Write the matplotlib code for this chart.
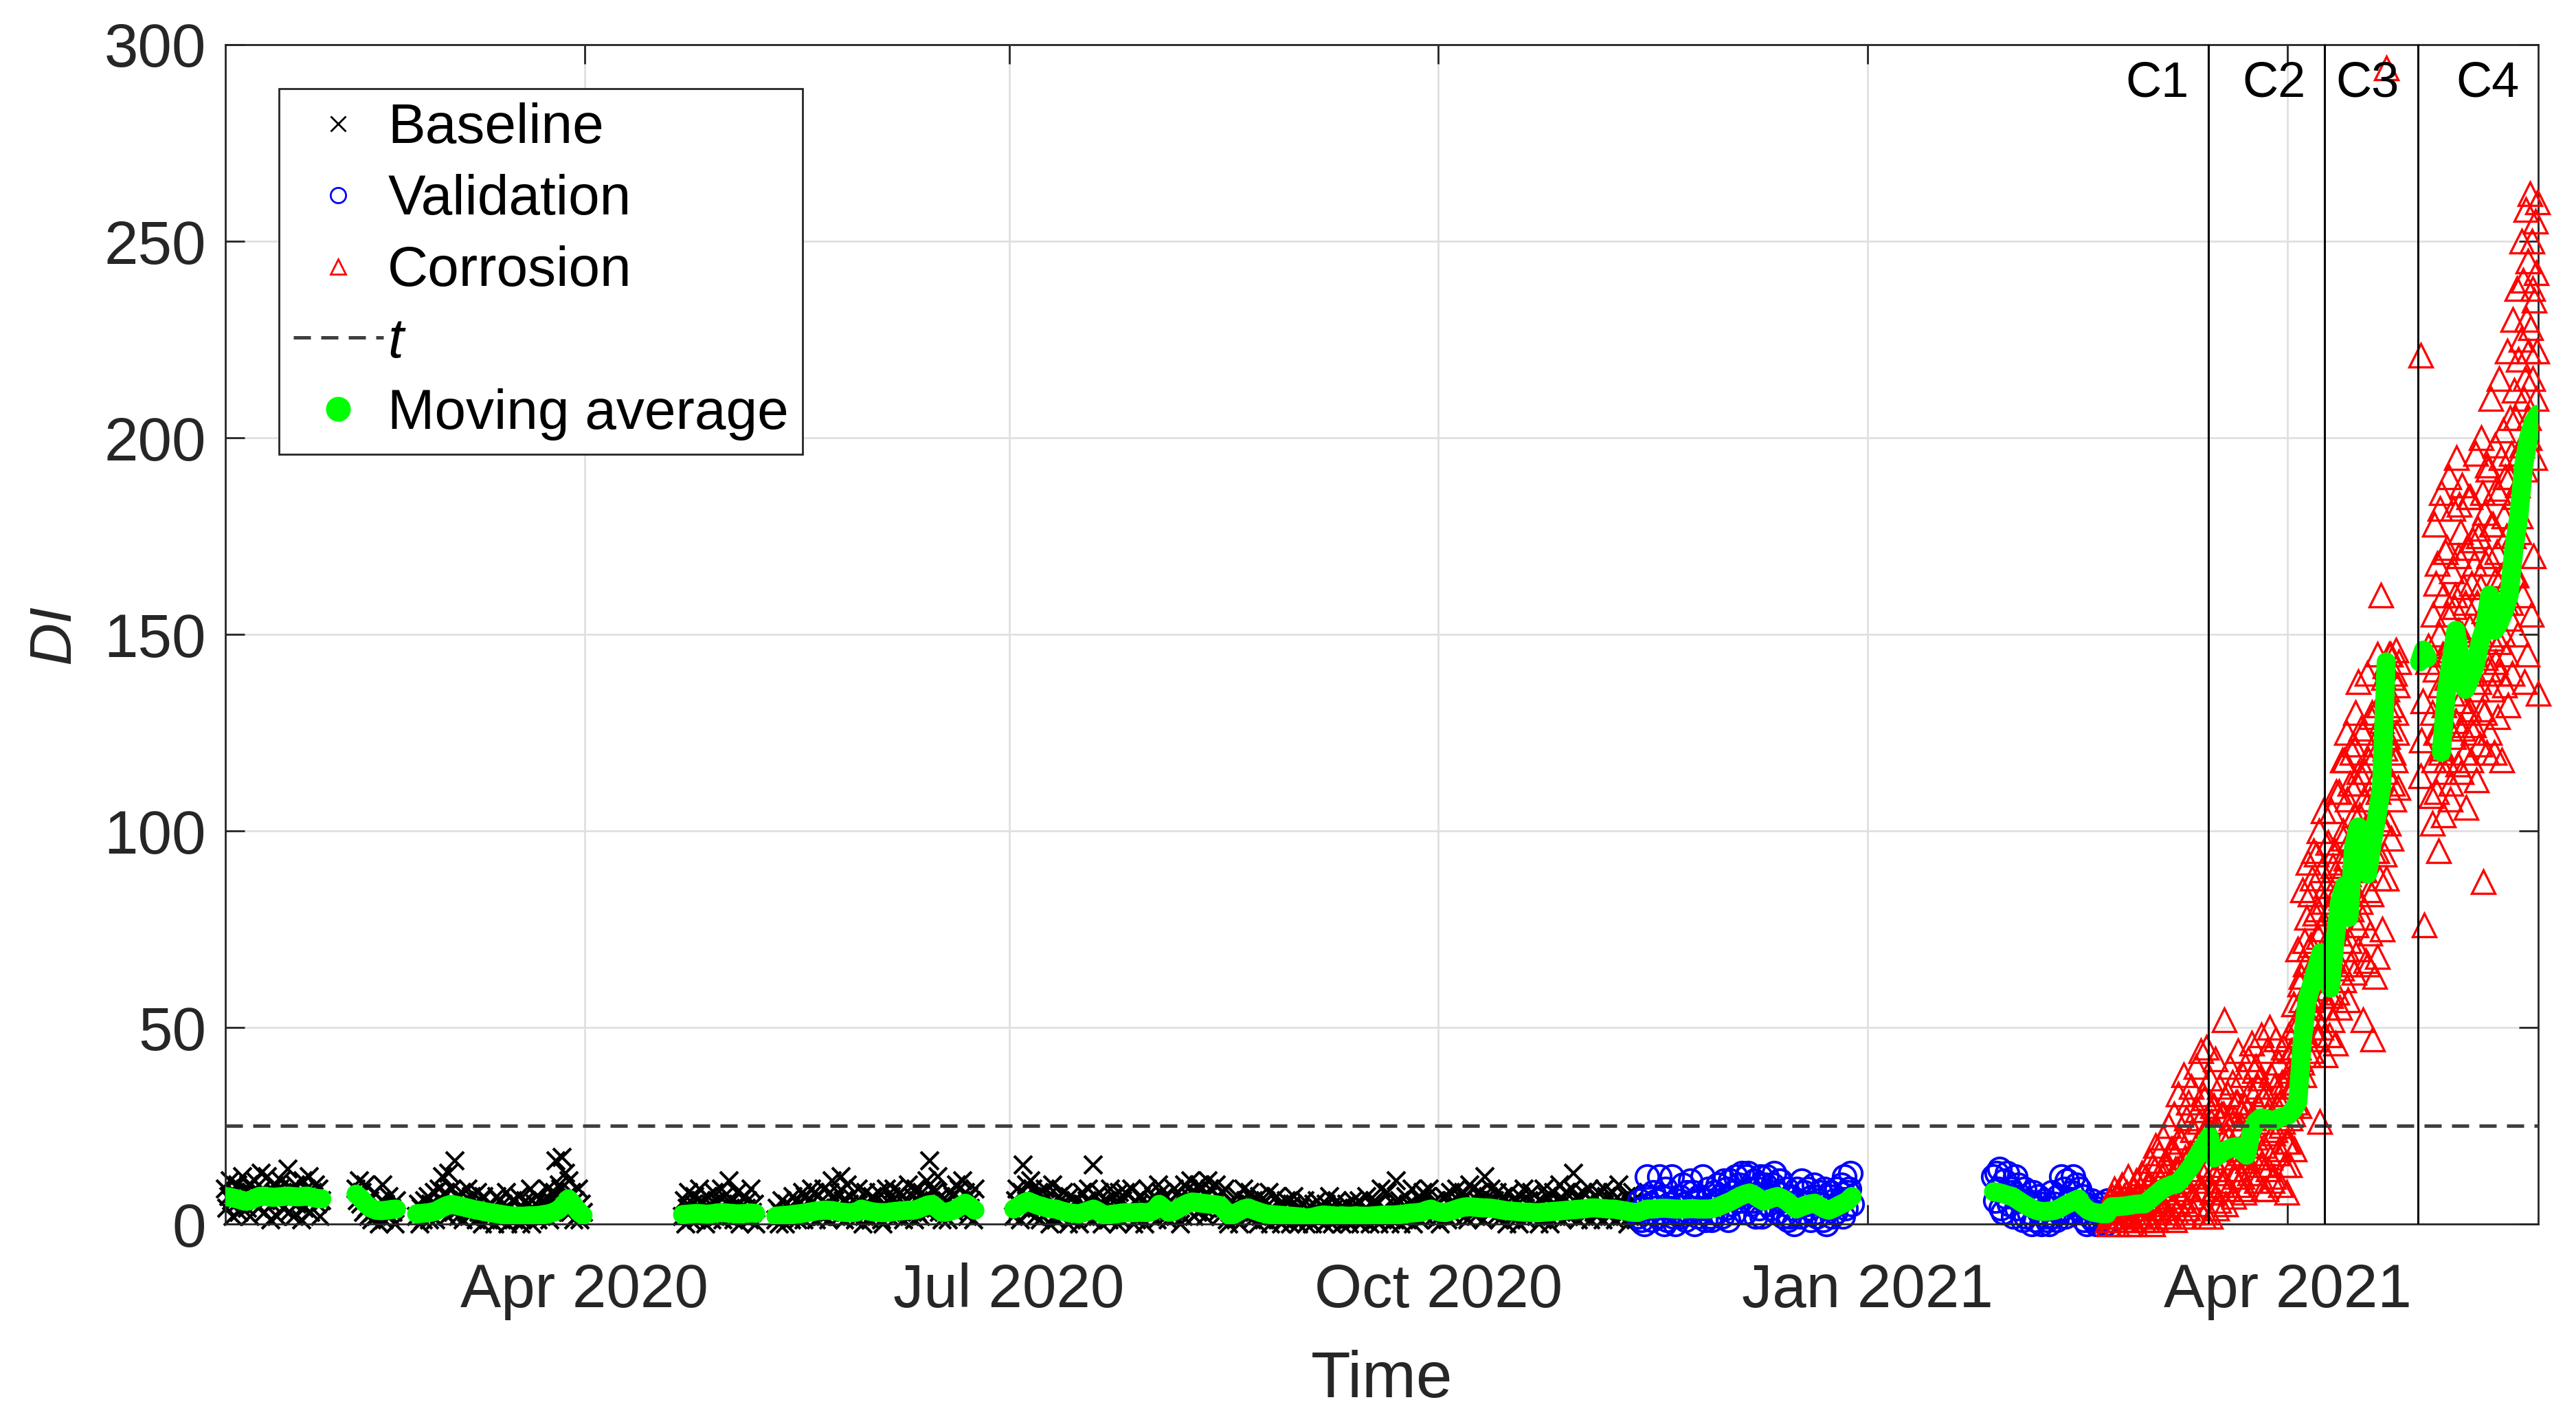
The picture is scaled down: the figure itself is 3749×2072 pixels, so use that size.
import numpy as np
import pandas as pd
import matplotlib
matplotlib.use("Agg")
import matplotlib.pyplot as plt
import matplotlib.dates as mdates
from matplotlib.lines import Line2D

plt.rcParams['font.family'] = ['Liberation Sans', 'DejaVu Sans']

# ---------------- data ----------------
# Baseline segments: (start, end) and DI values (3 samples per day)
base_spans = [("2020-01-15", "2020-02-04 16:00"), ("2020-02-12", "2020-02-20 16:00"),
              ("2020-02-25", "2020-03-31 16:00"), ("2020-04-22", "2020-05-07 16:00"),
              ("2020-05-12", "2020-06-23 16:00"), ("2020-07-02", "2020-11-12 16:00")]
base_s1 = [9,4,7, 11,6,2, 8,5,10, 3,7,12, 6,9,4, 10,2,8, 7,11,5, 4,8,13, 9,3,6, 12,7,1,
           5,10,8, 2,6,9, 11,4,7, 8,14,3, 6,9,2, 10,5,8, 7,1,11, 4,9,6, 12,3,8, 7,10,5, 9,2,6]
base_s2 = [9,6,11, 5,8,3, 10,4,2, 6,1,3, 8,2,5, 0,4,10, 1,5,3, 7,2,4, 3,0,6]
base_s3 = [2,5,0, 4,1,6, 3,7,1, 5,2,8, 1,4,9, 6,12,3, 8,2,13, 5,9,3, 16,7,2, 4,8,1, 6,3,9,
           2,7,4, 5,1,8, 3,6,0, 7,2,4, 1,5,3, 4,0,7, 2,6,1, 5,3,8, 0,4,2, 6,1,3, 3,7,0, 1,4,6,
           5,2,9, 0,3,5, 7,1,4, 2,6,3, 4,9,1, 6,3,8, 16,5,10, 9,17,4, 13,7,11, 3,8,1, 6,2,9, 1,5,3]
base_s4 = [2,6,0, 4,8,1, 3,5,7, 1,4,9, 6,2,3, 0,7,4, 5,1,8, 3,6,2, 4,9,1, 7,3,5, 11,2,6,
           1,4,8, 5,0,3, 2,7,4, 6,1,9, 3,5,0]
base_s5 = [1,4,0, 3,6,2, 0,5,3, 4,1,7, 2,6,1, 5,3,8, 1,7,4, 6,2,9, 3,8,1, 7,4,2, 2,9,5, 5,1,8,
           11,3,6, 4,8,2, 12,6,1, 3,10,5, 7,2,4, 1,5,9, 6,3,0, 2,8,4, 5,1,7, 3,6,2, 8,4,1, 0,5,9,
           4,2,7, 6,9,3, 2,4,8, 7,1,5, 3,10,2, 5,7,1, 9,3,6, 2,8,4, 6,11,3, 16,5,9, 8,4,12, 3,7,1,
           5,2,6, 1,8,4, 7,3,10, 4,9,6, 11,5,8, 2,7,4, 6,1,9]
base_s6 = [2,6,9, 5,1,8, 15,4,10, 7,3,11, 9,5,2, 4,8,1, 6,2,9, 3,7,0, 5,10,2, 1,4,7, 6,2,8,
           3,5,0, 7,1,4, 2,6,3, 0,4,8, 5,2,6, 9,3,1, 15,4,7, 2,8,5, 0,3,6, 4,1,9, 2,7,3, 5,0,8,
           1,6,3, 8,2,4, 3,9,0, 6,1,5, 2,7,4, 0,5,9, 4,2,6,
           7,3,1, 10,5,8, 3,7,2, 1,4,6, 5,9,2, 3,8,0, 6,2,10, 4,9,7, 11,5,2, 8,3,10, 6,9,4,
           2,7,11, 9,4,6, 5,10,3, 7,2,8, 4,9,1, 0,3,6, 2,5,1, 7,0,4, 3,9,6, 5,2,8, 1,6,3, 4,0,7,
           2,5,1, 6,3,8, 0,4,2, 3,7,1, 5,0,4, 1,6,2, 3,0,5, 7,1,3,
           0,4,2, 2,6,0, 4,1,3, 0,5,2, 6,1,3, 2,4,0, 5,1,7, 3,0,4, 1,6,2, 4,0,3, 2,5,1, 0,3,6,
           4,1,2, 6,0,3, 1,4,7, 3,0,5, 2,6,1, 5,0,9, 1,4,2, 8,3,0, 2,5,1, 11,3,6, 0,4,2, 7,1,5,
           3,9,0, 5,2,4, 1,6,8, 4,2,7, 9,3,5, 2,6,1,
           5,0,4, 3,7,2, 1,5,8, 6,2,4, 9,3,7, 4,8,2, 7,1,10, 5,9,3, 2,6,8, 8,4,1, 12,5,7, 3,9,6,
           6,2,8, 1,5,4, 7,3,0, 4,8,2, 2,6,1, 5,0,7, 3,9,4, 1,6,2, 8,3,5, 2,4,0, 6,1,9, 3,7,2,
           0,5,8, 4,2,6, 10,3,1, 6,8,4, 2,5,9, 13,4,7, 1,6,3,
           8,2,5, 4,9,1, 6,3,7, 2,8,5, 5,1,9, 7,4,2, 3,8,6, 1,5,10, 6,2,4, 4,7,0, 2,5,8, 6,1,3]
base_ma = [
    [7.0,6.8,6.5,6.2,5.8,5.9,6.5,7.0,7.1,6.9,6.8,6.9,7.0,7.1,7.0,6.9,7.0,7.1,6.8,6.5,6.4],
    [7.6,6.5,5.0,4.0,3.5,3.4,3.5,3.7,3.8],
    [2.6,2.7,2.8,3.0,3.3,4.0,4.6,5.0,4.8,4.5,4.2,3.9,3.6,3.4,3.1,2.9,2.7,2.5,2.3,2.1,2.0,2.0,
     2.0,2.1,2.1,2.2,2.4,2.6,3.0,3.6,4.8,6.4,5.0,3.2,2.2],
    [2.4,2.5,2.6,2.7,2.6,2.5,2.6,2.8,2.9,2.8,2.7,2.6,2.6,2.7,2.8,2.7],
    [2.0,2.1,2.2,2.3,2.5,2.6,2.8,3.0,3.2,3.4,3.5,3.5,3.4,3.2,3.0,2.9,2.9,3.0,3.8,3.5,
     3.2,3.0,2.9,2.9,3.0,3.2,3.3,3.4,3.5,3.5,3.8,4.3,4.8,5.0,4.0,3.0,3.0,3.3,3.8,4.6,5.3,4.5,3.5],
    [3.8,4.5,5.3,5.8,5.3,4.8,4.5,4.1,3.9,3.8,3.4,3.1,2.8,2.7,2.6,3.0,3.4,3.8,3.2,2.4,2.3,2.5,
     2.6,2.8,2.9,2.9,2.9,3.0,2.9,3.0,
     3.5,5.0,4.0,3.0,3.2,3.8,4.6,5.2,5.6,5.5,5.3,5.2,5.0,4.9,4.7,3.5,2.2,2.5,3.2,3.8,4.1,3.6,
     3.2,2.8,2.5,2.4,2.3,2.2,2.1,2.0,1.9,
     1.8,1.6,1.5,1.8,2.1,2.3,2.2,2.1,2.0,2.1,2.0,2.0,2.1,2.0,2.0,2.0,2.1,2.2,2.3,2.3,2.3,2.4,
     2.5,2.7,2.8,2.9,3.0,3.5,3.8,3.3,
     3.0,2.9,3.2,3.6,4.0,4.3,4.4,4.3,4.2,4.1,4.1,4.0,3.8,3.6,3.4,3.3,3.2,3.1,3.0,3.0,2.9,2.9,
     3.0,3.1,3.2,3.3,3.4,3.5,3.6,3.7,3.8,
     3.9,4.1,4.1,4.0,3.9,3.8,3.8,3.6,3.4,3.2,3.0,2.9],
]

# Validation segments (3 samples per day)
val_spans = [("2020-11-12 20:00", "2020-12-28 16:00"), ("2021-01-28", "2021-02-21 08:00")]
val_s1 = [2,6,1, 4,0,7, 12,3,5, 1,8,4, 6,2,12, 3,7,0, 9,1,5, 4,12,2, 0,6,3, 7,2,10, 5,1,8,
          3,11,4, 8,0,6, 2,7,3, 12,4,1, 6,9,2, 1,5,8, 3,10,6, 7,2,11,
          4,9,1, 11,5,8, 3,12,7, 10,6,13, 8,3,12, 13,9,5, 6,11,2, 9,4,12, 2,7,10, 12,5,8,
          4,10,13, 8,3,11, 11,6,2, 5,9,1, 2,7,4, 0,5,9, 6,2,11, 3,8,5, 9,4,1, 7,10,3, 2,6,8,
          5,1,9, 0,4,7, 8,2,6, 3,9,5, 6,10,2, 12,4,8, 9,13,5]
val_s2 = [12,6,13, 9,14,4, 3,11,7, 13,5,9, 8,2,12, 4,10,6, 7,1,9, 2,6,3, 5,0,8, 1,4,7, 3,0,5,
          6,2,1, 0,4,8, 2,5,1, 7,3,12, 4,9,2, 11,6,3, 8,12,5, 10,4,9, 3,7,1, 5,0,4, 2,6,1,
          4,0,3, 1,5,2, 3,0,6]
val_ma = [
    [3.0,3.4,3.8,3.8,3.9,4.0,4.0,3.9,3.8,3.8,3.8,3.9,3.9,3.8,3.8,3.8,3.9,4.3,4.8,
     5.3,5.8,6.5,7.1,7.6,7.9,7.3,6.5,5.8,6.2,6.7,7.0,6.5,5.8,4.8,3.8,4.3,4.8,5.1,5.3,4.6,
     3.9,3.5,4.0,4.6,5.2,5.8,7.0],
    [8.2,8.0,7.7,7.3,7.0,6.2,5.4,4.7,4.0,3.5,3.2,3.2,3.3,3.5,4.0,4.7,5.3,5.9,6.4,4.5,3.5,
     3.0,2.8,2.6,2.6],
]

# Corrosion: Feb 21 - Mar 31 (6 per day), Apr 1 - Apr 24 (8 per day),
# a few sparse points, May 2 - May 24 (8 per day)
corr_span1 = ("2021-02-21 08:00", "2021-03-31 20:00")
corr_s1 = [1,4,0,6,2,3, 3,7,1,9,5,2, 5,0,8,2,6,4, 6,10,3,1,7,4, 2,8,4,12,0,6, 7,1,5,9,3,6,
           0,6,11,3,8,2, 4,9,2,13,6,1,
           8,3,12,6,1,10, 2,10,16,5,8,0, 9,4,14,20,1,6, 6,18,3,11,9,14, 12,22,4,8,16,2,
           15,7,25,2,11,19, 10,19,5,28,1,14, 3,14,33,8,22,11, 21,6,12,38,2,17, 9,27,16,4,31,13,
           18,35,7,24,3,12, 12,40,5,29,21,9, 26,14,44,9,33,2, 32,3,19,45,25,11, 15,37,2,26,8,30,
           8,30,42,20,4,14, 24,6,35,13,28,10, 11,28,52,17,5,23, 33,9,22,40,14,27, 19,36,7,27,12,31,
           14,31,44,10,24,18, 25,12,38,21,8,30, 9,29,16,42,22,13, 34,18,46,13,27,39,
           22,40,11,30,35,17, 37,15,48,26,9,32, 20,33,9,44,28,14, 29,50,17,38,11,23,
           12,35,24,47,30,18, 41,19,31,10,25,36, 26,45,15,36,21,8]
corr_span2 = ("2021-04-01", "2021-04-24 20:00")
corr_s2 = [33,21,48,39,15,27,44,30, 44,28,56,35,19,40,31,50, 52,38,70,45,30,61,42,57,
           63,41,85,55,38,72,49,66, 48,78,60,92,43,70,55,84, 71,44,88,57,66,95,50,79,
           53,94,66,80,47,73,100,60, 26,75,50,90,64,105,58,82, 62,43,86,72,55,97,68,79,
           48,80,58,105,67,52,91,74, 67,95,46,84,110,59,76,88, 74,110,55,92,83,65,118,98,
           100,62,118,81,93,125,70,108, 57,89,72,112,66,98,80,120, 85,122,64,104,94,130,76,112,
           93,138,70,115,104,82,126,99, 78,125,52,108,90,115,67,101, 99,140,66,118,85,108,74,129,
           84,130,47,112,95,122,63,105, 120,95,145,68,110,132,88,103, 160,102,128,75,117,139,94,121,
           142,115,88,136,124,102,131,145, 126,145,98,132,112,139,120,108, 140,118,146,130,125,137,111,143]
corr_sparse_t = ["2021-04-22 06:00", "2021-04-29 12:00", "2021-04-29 14:00", "2021-04-29 18:00",
                 "2021-04-30 00:00", "2021-04-30 06:00", "2021-04-30 12:00", "2021-05-01 00:00",
                 "2021-05-01 06:00", "2021-05-01 18:00"]
corr_sparse_v = [294, 221, 114, 123, 133, 76, 145, 143, 147, 109]
corr_span3 = ("2021-05-02", "2021-05-24 18:00")
corr_s3 = [102,130,155,118,178,141,125,163, 110,168,125,95,150,137,182,120,
           186,121,145,104,160,132,115,171, 118,172,139,155,127,190,146,108,
           148,112,166,135,182,124,157,140, 160,128,195,142,117,170,151,183,
           133,176,115,150,188,126,162,143, 120,158,141,106,172,147,130,185,
           152,131,185,118,163,140,174,125, 127,168,145,196,113,158,136,177,
           175,138,122,162,150,200,131,186, 87,156,130,181,144,168,120,193,
           192,141,170,125,158,210,149,178, 136,178,155,120,198,164,143,187,
           171,129,186,148,215,140,160,195, 118,165,202,150,180,137,190,158,
           175,145,222,132,168,190,154,205, 158,196,140,230,175,212,185,165,
           205,165,238,188,150,220,176,196, 180,225,250,198,160,240,210,138,
           215,192,258,230,145,245,205,222, 200,262,228,155,250,215,238,170,
           235,195,255,210,242,222,260,135]
corr_ma_spans = [("2021-02-21 08:00", "2021-04-22 04:00"), ("2021-04-29 08:00", "2021-05-01 00:00"),
                 ("2021-05-04", "2021-05-24 18:00")]
corr_ma = [
    [3.0,4.4,4.4,4.5,4.6,4.8,5.0,5.1,
     5.1,6.0,7.0,8.0,9.0,9.5,10.0,10.2,11.5,13.0,14.5,16.5,18.5,20.4,22.3,16.8,17.5,18.5,19.0,
     19.5,19.7,18.5,17.5,23.4,26.0,27.0,26.8,26.5,26.3,27.0,27.3,
     27.7,29.0,31.0,47.0,57.0,61.0,65.0,69.0,67.0,60.0,72.0,82.0,86.0,78.0,96.0,101.0,94.0,
     89.0,97.0,103.6,111.0,143.0],
    [143.0,146.0,144.0],
    [120,135,143,151,143,136,139,142,148,152,160,151,153,156,160,172,180,193,200,204,206],
]

threshold = 25
c_bounds = ["2021-03-15", "2021-04-09", "2021-04-29"]
c_labels = ["C1", "C2", "C3", "C4"]
x_range = ("2020-01-15", "2021-05-24 18:00")
x_ticks = ["2020-04-01", "2020-07-01", "2020-10-01", "2021-01-01", "2021-04-01"]


def stamps(span, n):
    return pd.date_range(pd.Timestamp(span[0]), pd.Timestamp(span[1]), periods=n)


# ---------------- figure ----------------
fig = plt.figure(figsize=(3749 / 200, 2072 / 200), dpi=200)
ax = fig.add_axes([0.08749, 0.14044, 0.89784, 0.82819])

# baseline scatter
bt, bv = [], []
for span, vals in zip(base_spans, [base_s1, base_s2, base_s3, base_s4, base_s5, base_s6]):
    bt.extend(stamps(span, len(vals)))
    bv.extend(vals)
h_base, = ax.plot(bt, bv, ls='none', marker='x', ms=9.5, mew=1.5, color='k',
                  clip_on=False, zorder=2)

# validation scatter
vt, vv = [], []
for span, vals in zip(val_spans, [val_s1, val_s2]):
    vt.extend(stamps(span, len(vals)))
    vv.extend(vals)
h_val, = ax.plot(vt, vv, ls='none', marker='o', ms=12, mew=1.4, mfc='none', mec='#0000ff',
                 clip_on=False, zorder=2)

# corrosion scatter
ct = list(stamps(corr_span1, len(corr_s1))) + list(stamps(corr_span2, len(corr_s2))) + \
     list(pd.to_datetime(corr_sparse_t)) + list(stamps(corr_span3, len(corr_s3)))
cv = corr_s1 + corr_s2 + corr_sparse_v + corr_s3
h_cor, = ax.plot(ct, cv, ls='none', marker='^', ms=12.5, mew=1.2, mfc='none', mec='#ff0000',
                 clip_on=False, zorder=3)

# moving average
green = '#00ff00'
for span, vals in zip(base_spans + val_spans + corr_ma_spans, base_ma + val_ma + corr_ma):
    ax.plot(stamps(span, len(vals)), vals, color=green, lw=10, solid_capstyle='round',
            solid_joinstyle='round', zorder=5)

# threshold
h_thr = ax.axhline(threshold, color='#404040', ls=(0, (5, 3)), lw=1.8, zorder=6)

# corrosion stage boundaries
for d in c_bounds:
    ax.axvline(pd.Timestamp(d), color='k', lw=1.1, zorder=6)
label_x = [pd.Timestamp(d) for d in c_bounds] + [pd.Timestamp(x_range[1])]
for lab, xx in zip(c_labels, label_x):
    ax.annotate(lab, xy=(xx, 290), xytext=(-10, 0), textcoords='offset points',
                ha='right', va='center', fontsize=26, color='k', zorder=7)

# axes styling
ax.set_xlim(pd.Timestamp(x_range[0]), pd.Timestamp(x_range[1]))
ax.set_ylim(0, 300)
ax.set_yticks(np.arange(0, 301, 50))
ax.set_xticks(pd.to_datetime(x_ticks))
ax.xaxis.set_major_formatter(mdates.DateFormatter('%b %Y'))
ax.grid(True, color='#e0e0e0', lw=1.0)
ax.set_axisbelow(True)
for s in ax.spines.values():
    s.set_color('#262626')
    s.set_linewidth(1.0)
ax.tick_params(direction='in', length=10, width=1.0, top=True, right=True,
               labelsize=32, colors='#262626')
ax.tick_params(axis='x', pad=20)
ax.tick_params(axis='y', pad=10)
ax.set_xlabel('Time', fontsize=34, color='#262626', labelpad=15.5)
ax.set_ylabel('DI', fontsize=31, color='#262626', fontstyle='italic', labelpad=11.5)

h_ma = Line2D([], [], ls='none', marker='o', ms=12, color=green)
leg = ax.legend([h_base, h_val, h_cor, h_thr, h_ma],
                ['Baseline', 'Validation', 'Corrosion', 't', 'Moving average'],
                loc='upper left', bbox_to_anchor=(0.0232, 0.9627), borderaxespad=0,
                fontsize=29.5, frameon=True, fancybox=False, edgecolor='#262626',
                framealpha=1, borderpad=0.25, labelspacing=0.34, handlelength=1.6,
                handletextpad=0.08)
leg.get_frame().set_linewidth(1.0)
leg.get_texts()[3].set_fontstyle('italic')
leg.set_zorder(10)
for lh in leg.legend_handles[:3]:
    lh.set_markersize(8)
    lh.set_markeredgewidth(1.0)

fig.savefig('out.png', dpi=200)
